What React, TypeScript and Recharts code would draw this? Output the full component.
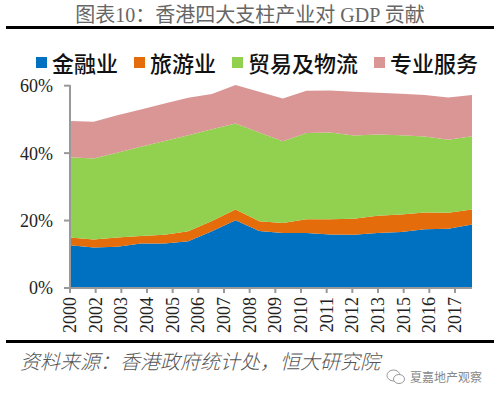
import React from 'react';
import { AreaChart, Area, XAxis, YAxis } from 'recharts';

// 2000-2017, 占GDP比重 (%)
const years = ['2000', '2001', '2002', '2003', '2004', '2005', '2006', '2007', '2008', '2009', '2010', '2011', '2012', '2013', '2014', '2015', '2016', '2017'];
const finance = [12.7, 12.0, 12.2, 13.2, 13.2, 13.9, 16.8, 20.1, 16.9, 16.3, 16.3, 15.9, 15.8, 16.3, 16.6, 17.4, 17.6, 18.8];
const tourism = [2.3, 2.4, 2.8, 2.2, 2.6, 2.9, 3.1, 3.2, 2.9, 3.0, 4.1, 4.5, 4.7, 5.1, 5.2, 5.0, 4.7, 4.5];
const trade = [23.8, 24.0, 25.1, 26.5, 27.8, 28.5, 27.2, 25.5, 26.3, 24.2, 25.6, 25.7, 24.7, 24.1, 23.5, 22.5, 21.7, 21.7];
const professional = [10.7, 10.9, 11.1, 11.0, 11.1, 11.1, 10.4, 11.4, 12.1, 12.7, 12.5, 12.5, 13.0, 12.4, 12.3, 12.3, 12.5, 12.2];

// x轴标签 (原图中的分类标签)
const xLabels = ['2000', '2002', '2003', '2004', '2005', '2006', '2007', '2008', '2009', '2010', '2011', '2012', '2013', '2015', '2016', '2017'];
const yTicks = [0, 20, 40, 60];

const series = [
    { key: 'finance', name: '金融业', color: '#0070C0' },
    { key: 'tourism', name: '旅游业', color: '#E46C0A' },
    { key: 'trade', name: '贸易及物流', color: '#92D050' },
    { key: 'professional', name: '专业服务', color: '#D99694' },
];

const tickStep = 1.0854;
const serif = '"Liberation Serif", "Times New Roman", "Noto Sans CJK SC", serif';
const cjk = '"Noto Sans CJK SC", "Liberation Serif", sans-serif';

const data = years.map((y, i) => ({
    idx: i,
    year: y,
    finance: finance[i],
    tourism: tourism[i],
    trade: trade[i],
    professional: professional[i],
}));

const XTick = (props: any) => {
    const { x, y, payload } = props;
    const label = xLabels[Math.round(payload.value / tickStep)];
    return (
        <text
            x={x}
            y={y}
            transform={`rotate(-90, ${x}, ${y})`}
            textAnchor="end"
            dominantBaseline="central"
            fontFamily={serif}
            fontSize={18}
            fill="#222"
        >
            {label}
        </text>
    );
};

export default function App() {
    return (
        <div style={{ position: 'absolute', left: 0, top: 0, width: 500, height: 397, background: '#fff', overflow: 'hidden' }}>
            <div style={{ position: 'absolute', top: 2, left: 0, width: 500, textAlign: 'center', fontFamily: serif, fontSize: 20, color: '#666', lineHeight: '26px' }}>
                图表10：香港四大支柱产业对 GDP 贡献
            </div>
            <div style={{ position: 'absolute', top: 26, left: 6, width: 488, height: 3, background: '#000' }} />

            <div style={{ position: 'absolute', top: 48, left: 36, display: 'flex', alignItems: 'center', gap: 16, fontFamily: cjk, fontSize: 22, fontWeight: 500, color: '#111', lineHeight: '28px' }}>
                {series.map((s) => (
                    <div key={s.key} style={{ display: 'flex', alignItems: 'center', gap: 5 }}>
                        <span style={{ display: 'inline-block', width: 11, height: 11, background: s.color }} />
                        <span>{s.name}</span>
                    </div>
                ))}
            </div>

            <div style={{ position: 'absolute', left: 0, top: 0 }}>
                <AreaChart width={500} height={345} data={data} margin={{ top: 85, right: 28, left: 0, bottom: 7 }}>
                    <XAxis
                        dataKey="idx"
                        type="number"
                        domain={[0, 17]}
                        ticks={xLabels.map((_, i) => i * tickStep)}
                        interval={0}
                        height={50}
                        tick={XTick}
                        tickSize={5}
                        tickMargin={4}
                        axisLine={{ stroke: '#999', strokeWidth: 2 }}
                        tickLine={{ stroke: '#999', strokeWidth: 2 }}
                    />
                    <YAxis
                        type="number"
                        domain={[0, 60]}
                        ticks={yTicks}
                        width={70}
                        tickFormatter={(v) => `${v}%`}
                        tickSize={6}
                        tickMargin={11}
                        tick={{ fontFamily: serif, fontSize: 18, fill: '#222' }}
                        axisLine={{ stroke: '#999', strokeWidth: 2 }}
                        tickLine={{ stroke: '#999', strokeWidth: 2 }}
                    />
                    {series.map((s) => (
                        <Area
                            key={s.key}
                            type="linear"
                            dataKey={s.key}
                            name={s.name}
                            stackId="gdp"
                            stroke="none"
                            fill={s.color}
                            fillOpacity={1}
                            dot={false}
                            activeDot={false}
                            isAnimationActive={false}
                        />
                    ))}
                </AreaChart>
            </div>

            <div style={{ position: 'absolute', top: 340, left: 6, width: 488, height: 3, background: '#000' }} />
            <div style={{ position: 'absolute', top: 348, left: 20, fontFamily: cjk, fontStyle: 'italic', fontSize: 20, fontWeight: 300, color: '#555', lineHeight: '26px' }}>
                资料来源：香港政府统计处，恒大研究院
            </div>
            <div style={{ position: 'absolute', top: 368, left: 386, display: 'flex', alignItems: 'center', gap: 4, fontFamily: cjk, fontSize: 12, color: '#888', lineHeight: '18px' }}>
                <svg width={20} height={16} viewBox="0 0 20 16">
                    <ellipse cx={7.5} cy={6.5} rx={6.5} ry={5.5} fill="none" stroke="#999" strokeWidth={1} />
                    <ellipse cx={13} cy={10} rx={5.5} ry={4.5} fill="#fff" stroke="#999" strokeWidth={1} />
                </svg>
                <span>夏嘉地产观察</span>
            </div>
        </div>
    );
}
